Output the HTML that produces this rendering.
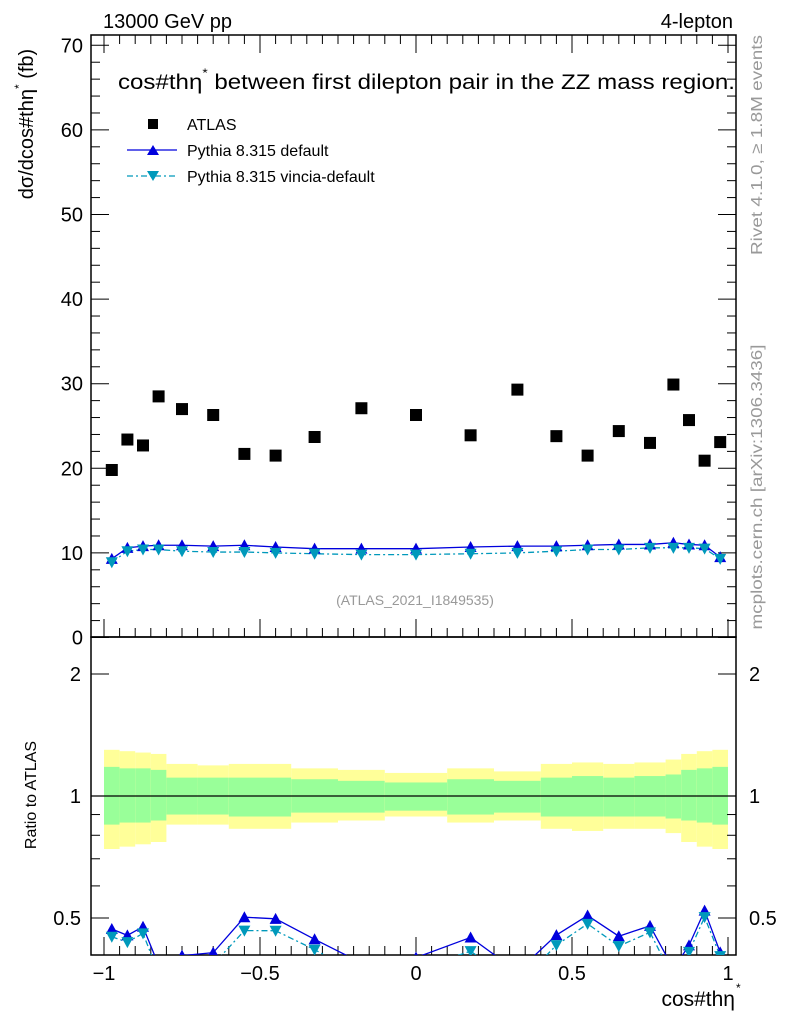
<!DOCTYPE html>
<html><head><meta charset="utf-8"><style>
body{margin:0;background:#fff;width:786px;height:1024px;overflow:hidden}
svg text{font-family:"Liberation Sans",sans-serif}
</style></head><body>
<svg id="chart" width="786" height="1024" xmlns="http://www.w3.org/2000/svg">
<g id="bands"></g>
<g id="grid"></g>
<g id="series"></g>
<text x="103" y="28" font-size="20">13000 GeV pp</text>
<text x="733" y="28" font-size="20" text-anchor="end">4-lepton</text>
<text x="118" y="89" font-size="21" textLength="617" lengthAdjust="spacingAndGlyphs">cos#thη<tspan dy="-12" font-size="12">*</tspan><tspan dy="12"> between first dilepton pair in the ZZ mass region.</tspan></text>
<g>
<rect x="148" y="119" width="10" height="10" fill="#000"/>
<text x="187" y="130" font-size="16">ATLAS</text>
<line x1="127" y1="150" x2="177" y2="150" stroke="#0000dd" stroke-width="1.3"/>
<path d="M147,155 L153,145 L159,155Z" fill="#0000dd"/>
<text x="187" y="156" font-size="16">Pythia 8.315 default</text>
<line x1="127" y1="176" x2="177" y2="176" stroke="#0099bb" stroke-width="1.3" stroke-dasharray="6,3,2,3"/>
<path d="M147,171 L153,181 L159,171Z" fill="#0099bb"/>
<text x="187" y="182" font-size="16">Pythia 8.315 vincia-default</text>
</g>
<text x="415" y="605" font-size="14" fill="#999" text-anchor="middle">(ATLAS_2021_I1849535)</text>
<text transform="translate(33,124) rotate(-90)" font-size="20" text-anchor="middle">dσ/dcos#thη<tspan dy="-10" font-size="12">*</tspan><tspan dy="10"> (fb)</tspan></text>
<text transform="translate(36,795) rotate(-90)" font-size="16" text-anchor="middle">Ratio to ATLAS</text>
<text x="735" y="1006" font-size="21" text-anchor="end">cos#thη</text>
<text x="736" y="992" font-size="12">*</text>
<text transform="translate(762,145) rotate(-90)" font-size="16" fill="#999" text-anchor="middle" textLength="220" lengthAdjust="spacingAndGlyphs">Rivet 4.1.0, ≥ 1.8M events</text>
<text transform="translate(762,487) rotate(-90)" font-size="16" fill="#999" text-anchor="middle" textLength="285" lengthAdjust="spacingAndGlyphs">mcplots.cern.ch [arXiv:1306.3436]</text>
</svg>
<script>
const xCenters=[-0.975,-0.925,-0.875,-0.825,-0.75,-0.65,-0.55,-0.45,-0.325,-0.175,0,0.175,0.325,0.45,0.55,0.65,0.75,0.825,0.875,0.925,0.975];
const binEdges=[-1,-0.95,-0.9,-0.85,-0.8,-0.7,-0.6,-0.5,-0.4,-0.25,-0.1,0.1,0.25,0.4,0.5,0.6,0.7,0.8,0.85,0.9,0.95,1];
const atlas=[19.8,23.4,22.7,28.5,27.0,26.3,21.7,21.5,23.7,27.1,26.3,23.9,29.3,23.8,21.5,24.4,23.0,29.9,25.7,20.9,23.1];
const pyDefault=[9.3,10.6,10.8,10.9,10.9,10.8,10.9,10.7,10.5,10.5,10.5,10.7,10.8,10.8,10.9,11.0,11.0,11.2,11.0,10.9,9.5];
const pyVincia=[8.9,10.2,10.4,10.4,10.2,10.1,10.1,10.0,9.9,9.8,9.8,9.9,10.0,10.2,10.4,10.4,10.6,10.6,10.6,10.5,9.3];
const yellowHi=[1.30,1.29,1.28,1.27,1.20,1.19,1.20,1.20,1.17,1.16,1.14,1.17,1.15,1.20,1.21,1.20,1.21,1.23,1.27,1.29,1.30];
const yellowLo=[0.74,0.75,0.76,0.77,0.85,0.85,0.83,0.83,0.86,0.87,0.89,0.86,0.87,0.83,0.82,0.83,0.83,0.81,0.77,0.75,0.74];
const greenHi=[1.18,1.17,1.17,1.16,1.11,1.11,1.11,1.11,1.10,1.09,1.08,1.10,1.09,1.11,1.12,1.11,1.12,1.13,1.16,1.17,1.18];
const greenLo=[0.85,0.86,0.86,0.87,0.90,0.90,0.89,0.89,0.91,0.91,0.92,0.90,0.91,0.89,0.89,0.89,0.89,0.88,0.87,0.86,0.85];
const mainTicks=[0,10,20,30,40,50,60,70];
const ratioTicks=[0.5,1,2];
const xTicks=[-1,-0.5,0,0.5,1];
const xTickLabels=["−1","−0.5","0","0.5","1"];

const L=91,R=736,T=35,MB=637,RB=955;
const sx=v=>416+312*v;
const sy=v=>637.5-8.46*v;
const sr=v=>796-122*Math.log2(v);
const NS="http://www.w3.org/2000/svg";
function mk(p,tag,a){const e=document.createElementNS(NS,tag);for(const k in a)e.setAttribute(k,a[k]);p.appendChild(e);return e;}
const bands=document.getElementById('bands'),grid=document.getElementById('grid'),ser=document.getElementById('series');

const clipR=mk(document.getElementById('chart'),'clipPath',{id:'cr'});mk(clipR,'rect',{x:L,y:MB,width:R-L,height:RB-MB});
const clipM=mk(document.getElementById('chart'),'clipPath',{id:'cm'});mk(clipM,'rect',{x:L,y:T,width:R-L,height:MB-T});
bands.setAttribute('clip-path','url(#cr)');
for(let i=0;i<binEdges.length-1;i++){
  const x0=sx(binEdges[i]),x1=sx(binEdges[i+1]);
  const y=mk(bands,'rect',{x:x0,y:sr(yellowHi[i]),width:x1-x0,height:sr(yellowLo[i])-sr(yellowHi[i]),fill:'#ffff99'});
  
  
  const g=mk(bands,'rect',{x:x0,y:sr(greenHi[i]),width:x1-x0,height:sr(greenLo[i])-sr(greenHi[i]),fill:'#99ff99'});
  
  
}
mk(bands,'line',{x1:L,x2:R,y1:sr(1),y2:sr(1),stroke:'#000','stroke-width':1.2});

mk(grid,'rect',{x:L,y:T,width:R-L,height:MB-T,fill:'none',stroke:'#000','stroke-width':1.5});
mk(grid,'rect',{x:L,y:MB,width:R-L,height:RB-MB,fill:'none',stroke:'#000','stroke-width':1.5});
for(let v=0;v<=71;v+=2){const y=sy(v);const len=v%10===0?18:9;
  mk(grid,'line',{x1:L,x2:L+len,y1:y,y2:y,stroke:'#000'});mk(grid,'line',{x1:R,x2:R-len,y1:y,y2:y,stroke:'#000'});}
mainTicks.forEach(v=>{const t=mk(grid,'text',{x:L-8,y:sy(v)+7,'font-size':20,'text-anchor':'end'});t.textContent=v;
  
  });
[0.5,0.6,0.7,0.8,0.9,1,2].forEach(v=>{const y=sr(v);const len=(v===0.5||v===1||v===2)?18:9;
  mk(grid,'line',{x1:L,x2:L+len,y1:y,y2:y,stroke:'#000'});mk(grid,'line',{x1:R,x2:R-len,y1:y,y2:y,stroke:'#000'});});
ratioTicks.forEach(v=>{const t=mk(grid,'text',{x:L-10,y:sr(v)+7,'font-size':20,'text-anchor':'end'});t.textContent=v;
  
  
  const t2=mk(grid,'text',{x:R+13,y:sr(v)+7,'font-size':20});t2.textContent=v;
  
  });
for(let k=-20;k<=20;k++){const v=k/20;const x=sx(v);const len=k%10===0?18:9;
  [MB,RB].forEach(b=>mk(grid,'line',{x1:x,x2:x,y1:b,y2:b-len,stroke:'#000'}));
  mk(grid,'line',{x1:x,x2:x,y1:T,y2:T+len,stroke:'#000'});}
xTicks.forEach((v,i)=>{const t=mk(grid,'text',{x:sx(v),y:980,'font-size':20,'text-anchor':'middle'});t.textContent=xTickLabels[i];
  
  });

const gm=mk(ser,'g',{'clip-path':'url(#cm)'});
function line(p,xs,ys,col,dash){mk(p,'polyline',{points:xs.map((x,i)=>x+','+ys[i]).join(' '),fill:'none',stroke:col,'stroke-width':1.3,'stroke-dasharray':dash||'none'});}
function tri(p,x,y,col,up,name){const d=up?`M${x-6},${y+5} L${x},${y-6} L${x+6},${y+5}Z`:`M${x-6},${y-5} L${x},${y+6} L${x+6},${y-5}Z`;
  const e=mk(p,'path',{d:d,fill:col});}
const X=xCenters.map(sx);
line(gm,X,pyDefault.map(sy),'#0000dd');
line(gm,X,pyVincia.map(sy),'#0099bb','6,3,2,3');
xCenters.forEach((v,i)=>{
  tri(gm,X[i],sy(pyDefault[i]),'#0000dd',true,'default-point');
  tri(gm,X[i],sy(pyVincia[i]),'#0099bb',false,'vincia-point');
  const r=mk(gm,'rect',{x:X[i]-6,y:sy(atlas[i])-6,width:12,height:12,fill:'#000'});
  
  
});
const gr=mk(ser,'g',{'clip-path':'url(#cr)'});
const rd=pyDefault.map((v,i)=>v/atlas[i]),rv=pyVincia.map((v,i)=>v/atlas[i]);
line(gr,X,rd.map(sr),'#0000dd');
line(gr,X,rv.map(sr),'#0099bb','6,3,2,3');
xCenters.forEach((v,i)=>{tri(gr,X[i],sr(rd[i]),'#0000dd',true,'default-ratio-point');tri(gr,X[i],sr(rv[i]),'#0099bb',false,'vincia-ratio-point');});
</script>
</body></html>
